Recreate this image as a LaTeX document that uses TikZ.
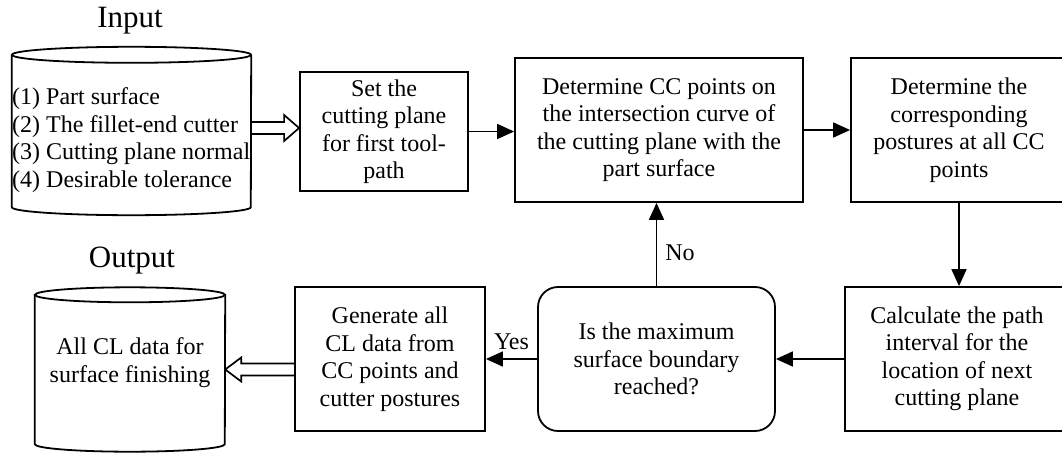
\documentclass[tikz,border=0pt]{standalone}
\usepackage{fontspec}
\setmainfont{Liberation Serif}
\usetikzlibrary{arrows.meta,calc}
\begin{document}
\begin{tikzpicture}[x=1pt,y=1pt,
  box/.style={draw, line width=1.8pt, align=center, inner sep=0pt, font=\fontsize{24}{27.5}\selectfont},
  arr/.style={-{Triangle[length=17pt,width=15pt]}, line width=1.7pt},
  lbl/.style={font=\fontsize{24}{27.5}\selectfont, inner sep=0pt},
  ttl/.style={font=\fontsize{31}{36}\selectfont, inner sep=0pt},
  body/.style={inner sep=0pt},
  outline/.style={line width=1.8pt},
  hollow/.style={line width=1.7pt, line join=miter}]
\useasboundingbox (0,0) rectangle (1062,-455);

% Input database
\node[ttl] (inlbl) at (130,-21) {Input};
\node[body, minimum width=239pt, minimum height=152pt] (in) at (131.5,-131) {};
\draw[outline] (in.north) ellipse [x radius=119.5pt, y radius=8pt];
\draw[outline] (in.north west) -- (in.south west) arc[start angle=180,end angle=360,x radius=119.5pt,y radius=8pt] -- (in.north east);
\node[lbl, align=left, anchor=west] (intext) at (12,-140) {(1) Part surface\\(2) The fillet-end cutter\\(3) Cutting plane normal\\(4) Desirable tolerance};

% Process boxes
\node[box, minimum width=168pt, minimum height=119pt] (set) at (384,-131.5) {Set the\\cutting plane\\for first tool-\\path};
\node[box, minimum width=288pt, minimum height=144pt] (det) at (659,-130) {Determine CC points on\\the intersection curve of\\the cutting plane with the\\part surface};
\node[box, minimum width=216pt, minimum height=144pt] (post) at (959,-130) {Determine the\\corresponding\\postures at all CC\\points};
\node[box, minimum width=224pt, minimum height=144pt] (calc) at (957,-359) {Calculate the path\\interval for the\\location of next\\cutting plane};
\node[box, rounded corners=20pt, minimum width=237pt, minimum height=144pt] (dec) at (656.5,-359) {Is the maximum\\surface boundary\\reached?};
\node[box, minimum width=190pt, minimum height=144pt] (gen) at (390,-359) {Generate all\\CL data from\\CC points and\\cutter postures};

% Output database
\node[ttl] (outlbl) at (132,-261) {Output};
\node[body, minimum width=190pt, minimum height=149pt] (outc) at (130,-369.5) {};
\draw[outline] (outc.north) ellipse [x radius=95pt, y radius=7.5pt];
\draw[outline] (outc.north west) -- (outc.south west) arc[start angle=180,end angle=360,x radius=95pt,y radius=7.5pt] -- (outc.north east);
\node[lbl, align=center] (outtext) at (130,-362.5) {All CL data for\\surface finishing};

% Connectors
\draw[arr] (set.east) -- (set.east -| det.west);
\draw[arr] (det.east) -- (det.east -| post.west);
\draw[arr] (post.south) -- (post.south |- calc.north);
\draw[arr] (calc.west) -- (calc.west -| dec.east);
\draw[arr] (dec.north) -- (dec.north |- det.south) node[lbl, pos=0.4, anchor=west, xshift=8pt] {No};
\draw[arr] (dec.west) -- (dec.west -| gen.east) node[lbl, pos=0.5, above=8pt] {Yes};

% Hollow arrows
\coordinate (t1) at ($(set.west)+(0,3.5)$);
\coordinate (s1) at (in.east |- t1);
\draw[hollow] ($(s1)+(0,6)$) -- ($(t1)+(-15,6)$) -- ($(t1)+(-15,13)$) -- (t1) -- ($(t1)+(-15,-13)$) -- ($(t1)+(-15,-6)$) -- ($(s1)+(0,-6)$);
\coordinate (t2) at (outc.east);
\coordinate (s2) at (gen.west |- t2);
\draw[hollow] ($(s2)+(0,6)$) -- ($(t2)+(16,6)$) -- ($(t2)+(16,12)$) -- (t2) -- ($(t2)+(16,-12)$) -- ($(t2)+(16,-6)$) -- ($(s2)+(0,-6)$);
\end{tikzpicture}
\end{document}
